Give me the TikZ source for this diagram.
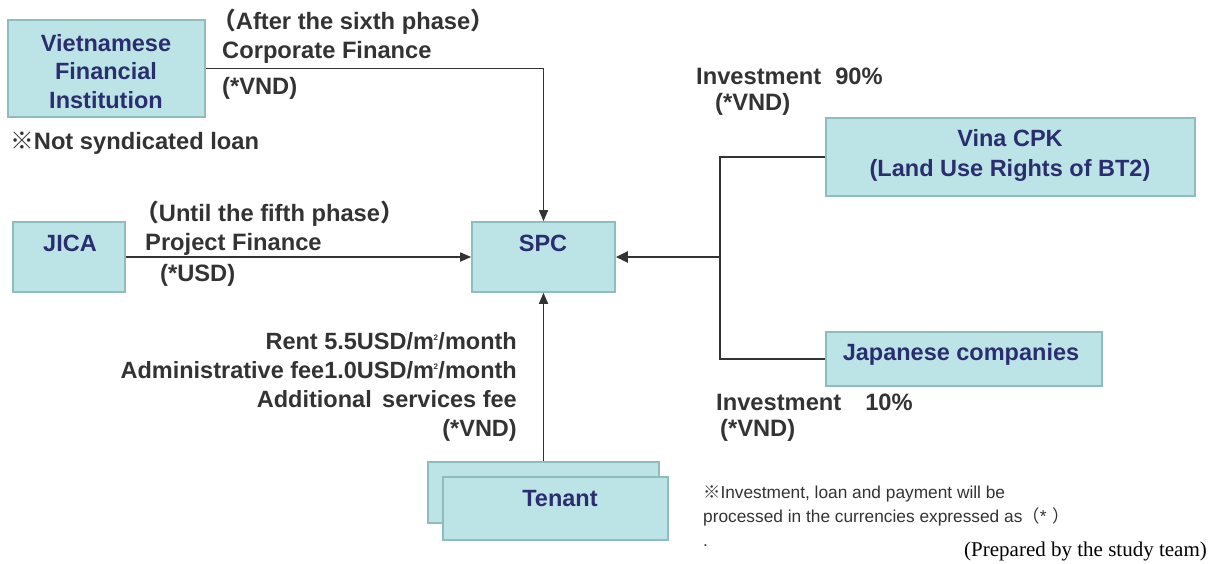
\documentclass[tikz,border=0pt]{standalone}
\usepackage{fontspec}
\setmainfont{Liberation Sans}
\newfontfamily\cjk{Noto Sans CJK JP}
\newfontfamily\timesfont{Liberation Serif}
\usetikzlibrary{arrows.meta}
\definecolor{boxfill}{HTML}{BCE4E6}
\definecolor{boxline}{HTML}{8FBCBD}
\definecolor{navy}{HTML}{2B2E6E}
\definecolor{ink}{HTML}{333333}
% square metre with a small raised 2 after the m
\newcommand{\sqmetre}{m\kern-0.5pt\raisebox{9pt}{\fontsize{8}{8}\selectfont 2}\kern0.5pt}
\begin{document}
\begin{tikzpicture}[x=1pt,y=-1pt,
  entity/.style={draw=boxline, fill=boxfill, line width=1.6pt, inner sep=0pt},
  entitytext/.style={text=navy, font=\fontsize{23.5}{28.5}\selectfont\bfseries, align=center, inner sep=0pt},
  note/.style={text=ink, font=\fontsize{23.7}{28.5}\selectfont\bfseries, inner sep=0pt},
  smallnote/.style={text=ink, font=\fontsize{17.3}{24}\selectfont, inner sep=0pt, align=left},
  flow/.style={draw=ink, line width=1.4pt, -{Triangle[length=11pt,width=9pt]}},
  bigflow/.style={draw=ink, line width=2.4pt, -{Triangle[length=12pt,width=11pt]}},
  link/.style={draw=ink, line width=1.4pt}]
\useasboundingbox (0,0) rectangle (1209,563);

% entities
\node[entity, minimum width=197pt, minimum height=97pt] (vfi) at (106.5,68.5) {};
\node[entitytext] (vfitext) at (106,71.5) {Vietnamese\\Financial\\Institution};

\node[entity, minimum width=112pt, minimum height=70pt] (jica) at (69,257) {};
\node[entitytext] (jicatext) at (70,243) {JICA};

\node[entity, minimum width=143pt, minimum height=70pt] (spc) at (543.5,257) {};
\node[entitytext] (spctext) at (543,243) {SPC};

\node[entity, minimum width=369pt, minimum height=78pt] (vina) at (1010.5,157) {};
\node[entitytext, font=\fontsize{23.5}{30}\selectfont\bfseries] (vinatext) at (1010,155) {Vina CPK\\(Land Use Rights of BT2)};

\node[entity, minimum width=276pt, minimum height=54pt] (japan) at (964,359) {};
\node[entitytext] (japantext) at (961,354) {Japanese companies};

\node[entity, minimum width=231pt, minimum height=61pt] (tenantback) at (543.5,492.5) {};
\node[entity, minimum width=225pt, minimum height=63pt] (tenant) at (555.5,508.5) {};
\node[entitytext] (tenanttext) at (560,499) {Tenant};

% flows into the SPC
\draw[flow] (vfi.east) -| (spc.north);
\draw[flow] (jica.east) -- (spc.west);
\draw[flow] (tenantback.north) -- (spc.south);
\coordinate (junction) at (720,257);
\draw[link] (vina.west) -| (junction) |- (japan.west);
\draw[bigflow] (junction) -- (spc.east);

% flow labels
\node[note, align=left, anchor=west] (corplabel) at (222,36) {\hspace*{-10pt}{\cjk （}After the sixth phase{\cjk ）}\\Corporate Finance};
\node[note, anchor=west] (corpcur) at (222,88) {(*VND)};
\node[note, anchor=west] (syndnote) at (10,143) {{\cjk ※}Not syndicated loan};

\node[note, align=left, anchor=west] (projlabel) at (145,228) {\hspace*{-10pt}{\cjk （}Until the fifth phase{\cjk ）}\\Project Finance};
\node[note, anchor=west] (projcur) at (160,275) {(*USD)};

\node[note, align=right, anchor=east, font=\fontsize{23.5}{29}\selectfont\bfseries] (rentlabel) at (517,386.5)
  {Rent 5.5USD/\sqmetre/month\\Administrative fee1.0USD/\sqmetre/month\\Additional\, services fee\\(*VND)};

\node[note, anchor=west] (inv90) at (696,76) {Investment\hspace{14pt}90\%};
\node[note, anchor=west] (inv90cur) at (715,104) {(*VND)};
\node[note, anchor=west] (inv10) at (716,402) {Investment\hspace{24pt}10\%};
\node[note, anchor=west] (inv10cur) at (720,430) {(*VND)};

% footnotes
\node[smallnote, anchor=north west] (currnote) at (703,485)
  {{\cjk ※}Investment, loan and payment will be\\processed in the currencies expressed as{\cjk （}*\,\,{\cjk ）}\\.};
\node[text=black, font=\fontsize{21}{24}\selectfont\timesfont, inner sep=0pt, anchor=east] (source) at (1207,551) {(Prepared by the study team)};
\end{tikzpicture}
\end{document}
